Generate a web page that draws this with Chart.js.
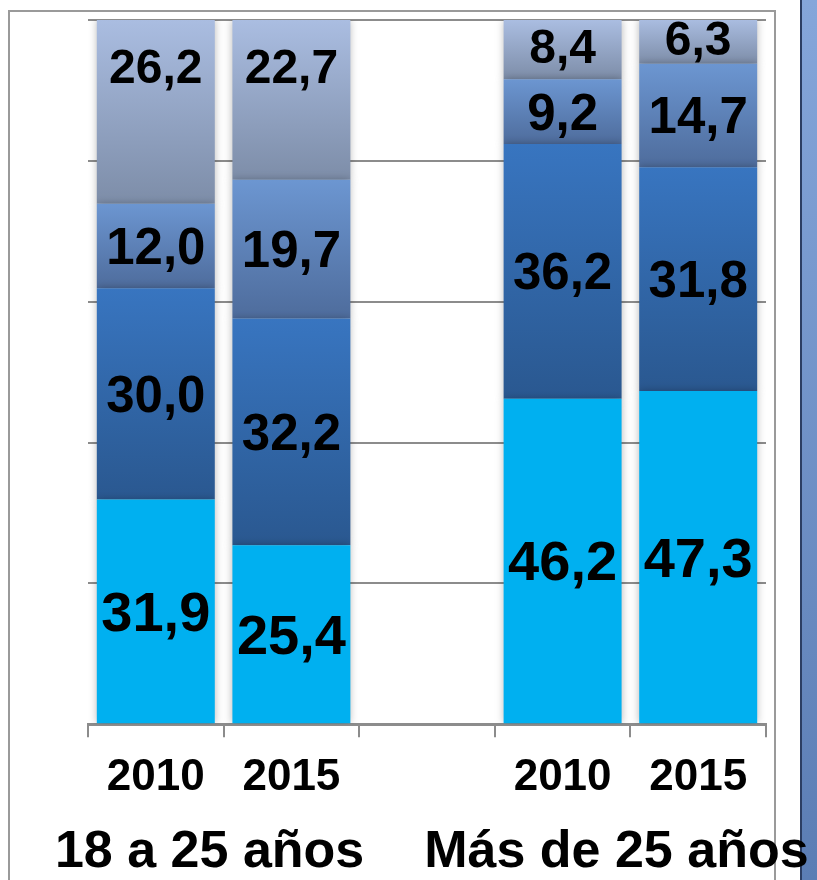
<!DOCTYPE html>
<html>
<head>
<meta charset="utf-8">
<script src="https://cdn.jsdelivr.net/npm/chart.js@4/dist/chart.umd.min.js"></script>
<style>
  html, body { margin: 0; padding: 0; background: #fff; }
  #wrap { width: 817px; height: 880px; position: relative; }
</style>
</head>
<body>
<div id="wrap"><canvas id="chart" width="817" height="880"></canvas></div>
<script>
// data
const years = ['2010', '2015', '', '2010', '2015'];
const groups = ['18 a 25 años', 'Más de 25 años'];
const groupStart = [0, 3];
const serie1 = [31.9, 25.4, null, 46.2, 47.3];
const serie2 = [30.0, 32.2, null, 36.2, 31.8];
const serie3 = [12.0, 19.7, null, 9.2, 14.7];
const serie4 = [26.2, 22.7, null, 8.4, 6.3];

const FONT = '"Liberation Sans", Arial, sans-serif';

// top / bottom colours of each segment gradient
const segColors = [
    ['#00B0F0', '#00B0F0'],
    ['#3875C0', '#2A5890'],
    ['#6C96D1', '#4E6C9C'],
    ['#AABDE1', '#7D8DA8']
];
const labelSizes = [56, 51, 51, 48];

function segGradient(ctx) {
    const chart = ctx.chart;
    const y = chart.scales.y;
    const i = ctx.dataIndex, d = ctx.datasetIndex;
    const cols = segColors[d];
    if (!y || ctx.type !== 'data') return cols[0];
    let below = 0;
    for (let k = 0; k < d; k++) below += chart.data.datasets[k].data[i] || 0;
    const v = chart.data.datasets[d].data[i] || 0;
    const top = y.getPixelForValue(below + v);
    const bot = y.getPixelForValue(below);
    if (!isFinite(top) || !isFinite(bot) || top === bot) return cols[0];
    const g = chart.ctx.createLinearGradient(0, top, 0, bot);
    g.addColorStop(0, cols[0]);
    g.addColorStop(1, cols[1]);
    return g;
}

const framePlugin = {
    id: 'frame',
    beforeDraw(chart) {
        const c = chart.ctx;
        c.save();
        c.fillStyle = '#fff';
        c.fillRect(0, 0, chart.width, chart.height);
        // outer border
        c.strokeStyle = '#9a9a9a';
        c.lineWidth = 2;
        c.strokeRect(9, 11, 766, 900);
        // blue band on the right
        const g = c.createLinearGradient(0, 0, 0, chart.height);
        g.addColorStop(0, '#85a6da');
        g.addColorStop(1, '#5b7db4');
        c.fillStyle = g;
        c.fillRect(801, 0, 16, chart.height);
        c.fillStyle = '#2c3e63';
        c.fillRect(800, 0, 2, chart.height);
        c.restore();
    },
    beforeDatasetsDraw(chart) {
        const c = chart.ctx;
        c.save();
        c.shadowColor = 'rgba(0,0,0,0.28)';
        c.shadowBlur = 8;
    },
    afterDatasetsDraw(chart) {
        const c = chart.ctx;
        c.restore();
        c.save();
        c.fillStyle = '#000';
        c.textAlign = 'center';
        c.textBaseline = 'middle';
        chart.data.datasets.forEach((ds, d) => {
            const meta = chart.getDatasetMeta(d);
            meta.data.forEach((el, i) => {
                const v = ds.data[i];
                if (v == null) return;
                const h = el.base - el.y;
                let ty = el.y + h / 2 + 4;
                if (d === 3) ty = el.y + Math.min(h / 2, 50);
                c.font = 'bold ' + labelSizes[d] + 'px ' + FONT;
                c.fillText(v.toFixed(1).replace('.', ','), el.x, ty);
            });
        });
        c.restore();
    },
    afterDraw(chart) {
        const c = chart.ctx;
        const x = chart.scales.x;
        c.save();
        c.fillStyle = '#000';
        c.textAlign = 'center';
        c.textBaseline = 'middle';
        c.font = 'bold 52px ' + FONT;
        groups.forEach((g, k) => {
            const a = x.getPixelForValue(groupStart[k]);
            const b = x.getPixelForValue(groupStart[k] + 1);
            c.fillText(g, (a + b) / 2 - 14, 853);
        });
        c.restore();
    }
};

new Chart(document.getElementById('chart'), {
    type: 'bar',
    data: {
        labels: years,
        datasets: [serie1, serie2, serie3, serie4].map((s, d) => ({
            label: 'Serie ' + (d + 1),
            data: s,
            backgroundColor: segGradient,
            borderWidth: 0,
            barPercentage: 0.87,
            categoryPercentage: 1
        }))
    },
    options: {
        responsive: false,
        animation: false,
        layout: { padding: { left: 88, right: 51, top: 20, bottom: 62 } },
        plugins: {
            legend: { display: false },
            tooltip: { enabled: false }
        },
        scales: {
            x: {
                stacked: true,
                grid: {
                    offset: true,
                    drawOnChartArea: false,
                    drawTicks: true,
                    tickLength: 13,
                    color: '#8c8c8c',
                    lineWidth: 2
                },
                border: { color: '#8c8c8c', width: 3 },
                ticks: {
                    color: '#000',
                    padding: 14,
                    font: { family: FONT, size: 44, weight: 'bold' }
                }
            },
            y: {
                stacked: true,
                min: 0,
                max: 100,
                ticks: { display: false, stepSize: 20 },
                grid: { color: '#8c8c8c', lineWidth: 2, drawTicks: false },
                border: { display: false }
            }
        }
    },
    plugins: [framePlugin]
});
</script>
</body>
</html>
